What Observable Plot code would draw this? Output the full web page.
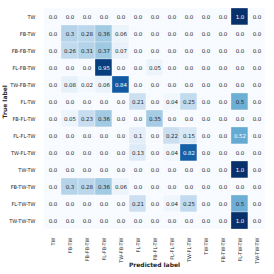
<!DOCTYPE html>
<html><head><meta charset="utf-8">
<script src="https://cdn.jsdelivr.net/npm/d3@7"></script>
<script src="https://cdn.jsdelivr.net/npm/@observablehq/plot@0.6"></script>
<style>body{margin:0;background:#fff} svg{display:block}</style>
</head><body><div id="chart"></div>
<script>
const labels = ["TW","FB-TW","FB-FB-TW","FL-FB-TW","TW-FB-TW","FL-TW","FB-FL-TW","FL-FL-TW","TW-FL-TW","TW-TW","FB-TW-TW","FL-TW-TW","TW-TW-TW"];
const rowTW      = [0,0,0,0,0,0,0,0,0,0,0,1.0,0];
const rowFBTW    = [0,0.3,0.28,0.36,0.06,0,0,0,0,0,0,0,0];
const rowFBFBTW  = [0,0.26,0.31,0.37,0.07,0,0,0,0,0,0,0,0];
const rowFLFBTW  = [0,0,0,0.95,0,0,0.05,0,0,0,0,0,0];
const rowTWFBTW  = [0,0.08,0.02,0.06,0.84,0,0,0,0,0,0,0,0];
const rowFLTW    = [0,0,0,0,0,0.21,0,0.04,0.25,0,0,0.5,0];
const rowFBFLTW  = [0,0.05,0.23,0.36,0,0,0.35,0,0,0,0,0,0];
const rowFLFLTW  = [0,0,0,0,0,0.1,0,0.22,0.15,0,0,0.52,0];
const rowTWFLTW  = [0,0,0,0,0,0.13,0,0.04,0.82,0,0,0,0];
const rowTWTW    = [0,0,0,0,0,0,0,0,0,0,0,1.0,0];
const rowFBTWTW  = [0,0.3,0.28,0.36,0.06,0,0,0,0,0,0,0,0];
const rowFLTWTW  = [0,0,0,0,0,0.21,0,0.04,0.25,0,0,0.5,0];
const rowTWTWTW  = [0,0,0,0,0,0,0,0,0,0,0,1.0,0];
const rows = [rowTW,rowFBTW,rowFBFBTW,rowFLFBTW,rowTWFBTW,rowFLTW,rowFBFLTW,rowFLFLTW,rowTWFLTW,rowTWTW,rowFBTWTW,rowFLTWTW,rowTWTWTW];

const data = [];
rows.forEach((r, i) => r.forEach((v, j) => data.push({truth: labels[i], pred: labels[j], v})));
const fmt = v => { const s = String(v); return s.includes(".") ? s : v.toFixed(1); };

const chart = Plot.plot({
  width: 274, height: 274,
  marginLeft: 38, marginTop: 2, marginRight: 4, marginBottom: 40,
  style: {fontFamily: "DejaVu Sans", fontSize: "5px", color: "#262626", background: "#fff"},
  x: {domain: labels, padding: 0, label: null},
  y: {domain: labels, padding: 0, label: null},
  color: {type: "linear", scheme: "blues", domain: [0, 1]},
  marks: [
    Plot.cell(data, {x: "pred", y: "truth", fill: "v", stroke: "white", strokeWidth: 0.3}),
    Plot.text(data, {x: "pred", y: "truth", text: d => fmt(d.v), fontSize: 5.5, fill: d => d.v > 0.51 ? "white" : "#262626"}),
    Plot.axisX({tickRotate: -90, tickSize: 0, tickPadding: 3, fontSize: 5, label: null}),
    Plot.axisY({tickSize: 0, tickPadding: 3, fontSize: 5, label: null}),
    Plot.text(["Predicted label"], {frameAnchor: "bottom", dy: 32, fontWeight: "bold", fontSize: 6}),
    Plot.text(["True label"], {frameAnchor: "left", dx: -33, rotate: -90, fontWeight: "bold", fontSize: 6})
  ]
});
document.getElementById("chart").append(chart);
</script></body></html>
